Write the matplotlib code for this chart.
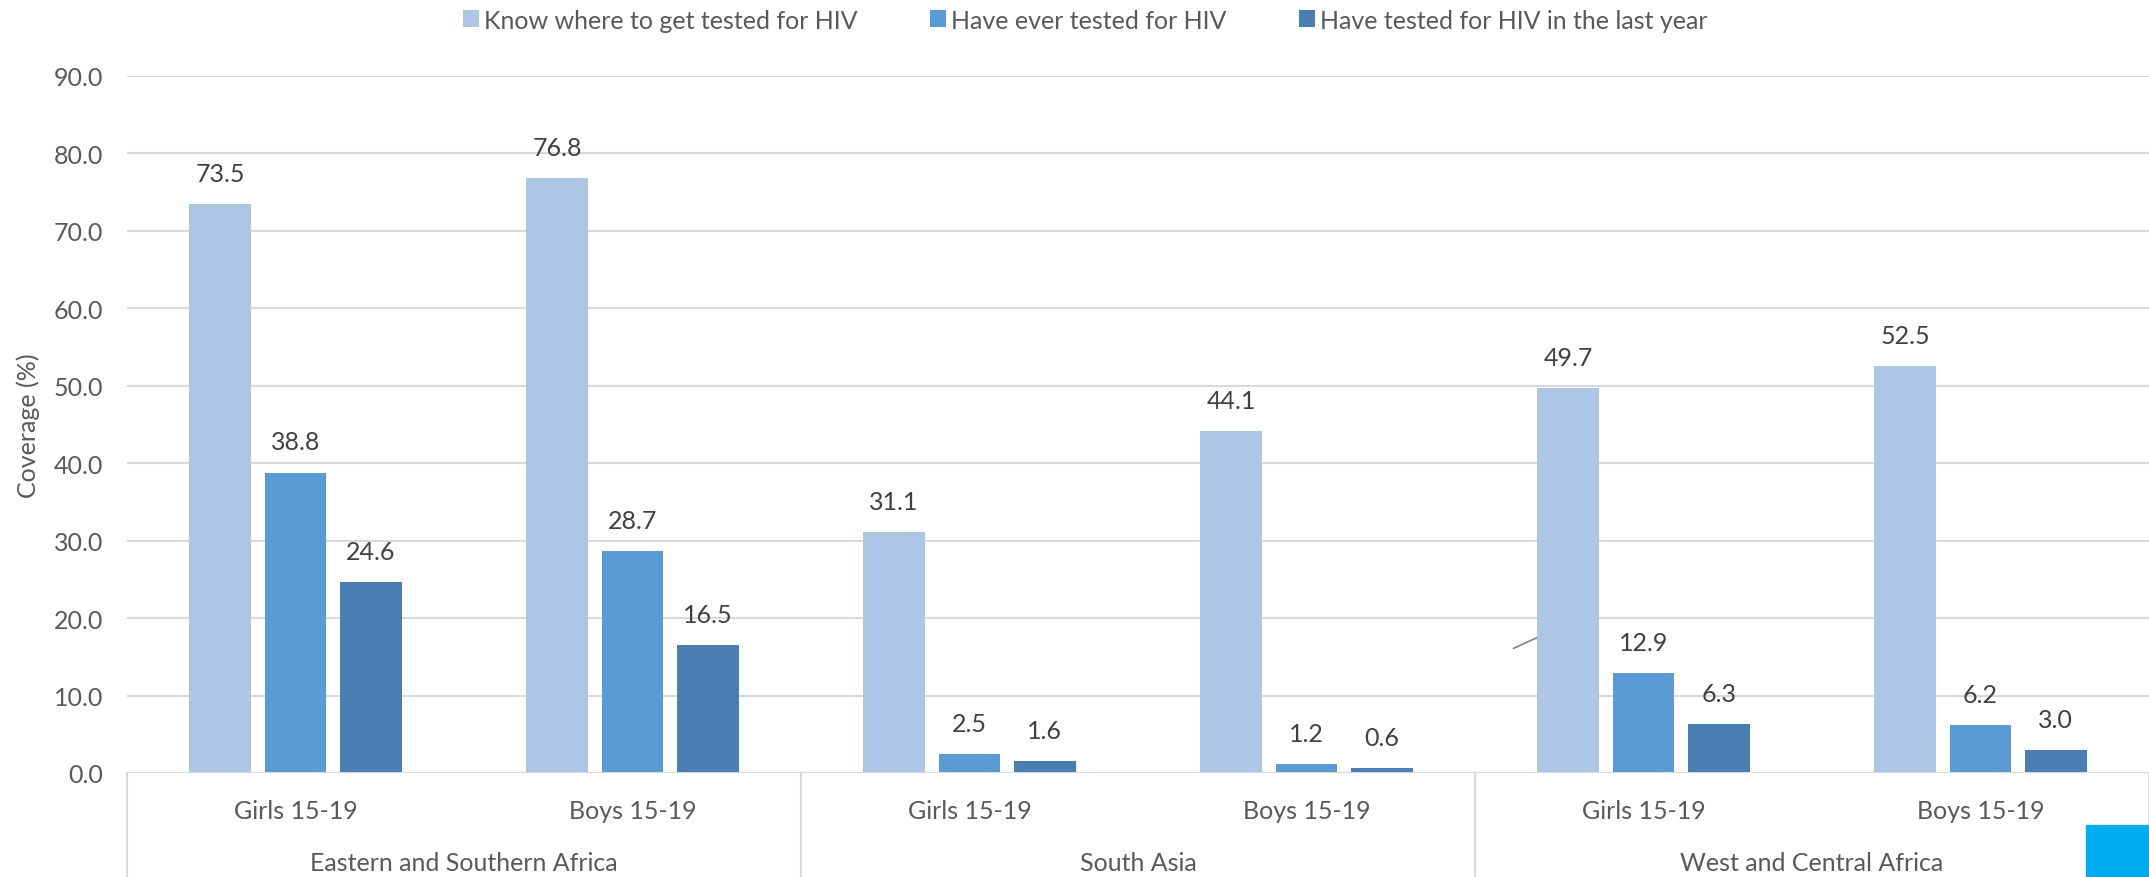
import numpy as np
import matplotlib.pyplot as plt
from matplotlib.patches import Rectangle
import matplotlib.transforms as mtransforms

plt.rcParams['font.family'] = ['Lato', 'DejaVu Sans']

# Dane
regiony = ["Eastern and Southern Africa", "South Asia", "West and Central Africa"]
grupy = ["Girls 15-19", "Boys 15-19", "Girls 15-19", "Boys 15-19", "Girls 15-19", "Boys 15-19"]
serie = ["Know where to get tested for HIV", "Have ever tested for HIV",
         "Have tested for HIV in the last year"]
wie_gdzie = [73.5, 76.8, 31.1, 44.1, 49.7, 52.5]
kiedykolwiek = [38.8, 28.7, 2.5, 1.2, 12.9, 6.2]
ostatni_rok = [24.6, 16.5, 1.6, 0.6, 6.3, 3.0]
kolory = ["#AEC6E5", "#5B9BD5", "#4A7EB0"]

tekst = "#595959"
fig = plt.figure(figsize=(21.49, 8.78), dpi=100)
ax = fig.add_axes([127 / 2149, 104 / 878, 1 - 127 / 2149, 697 / 878])

x = np.arange(len(grupy)) + 0.5
krok = 0.2236
szer = 0.183
for i, (wart, kol) in enumerate(zip([wie_gdzie, kiedykolwiek, ostatni_rok], kolory)):
    pos = x + (i - 1) * krok
    ax.bar(pos, wart, width=szer, color=kol, zorder=3, label=serie[i])
    for px, v in zip(pos, wart):
        ax.annotate("{:.1f}".format(v), (px, v), xytext=(0, 22), textcoords="offset points",
                    ha="center", va="center", fontsize=18, color="#404040")

ax.set_xlim(0, len(grupy))
ax.set_ylim(0, 90)
ax.set_yticks(np.arange(0, 91, 10))
ax.set_yticklabels(["{:.1f}".format(t) for t in np.arange(0, 91, 10)], fontsize=18, color=tekst)
ax.tick_params(axis="y", length=0, pad=17)
ax.grid(axis="y", color="#D9D9D9", linewidth=1.5, zorder=0)
for s in ["top", "right", "left", "bottom"]:
    ax.spines[s].set_visible(False)
ax.axhline(0, color="#D9D9D9", linewidth=1.5, zorder=4)

ax.set_xticks(x)
ax.set_xticklabels(grupy, fontsize=18, color=tekst)
ax.tick_params(axis="x", length=0, pad=19)

# Osie kategorii (regiony)
trans = mtransforms.blended_transform_factory(ax.transData, ax.transAxes)
for sep in [0, 2, 4, 6]:
    ax.plot([sep, sep], [0, -0.2], color="#D9D9D9", linewidth=1.5, transform=trans, clip_on=False)
for j, r in enumerate(regiony):
    ax.text(2 * j + 1, -0.128, r, transform=trans, ha="center", va="center", fontsize=18, color=tekst)

# Linia odniesienia (pozostałość po etykiecie)
lewy = x[4] - krok - szer / 2
ax.plot([lewy - 0.07, lewy], [16.1, 17.5], color="#7F7F7F", linewidth=1.2, zorder=2)

ax.set_ylabel("Coverage (%)", fontsize=18, color=tekst, labelpad=10)

fig.legend(loc="center", bbox_to_anchor=(0.505, 0.976), ncol=3, frameon=False, fontsize=18,
           handlelength=0.65, handleheight=0.65, handletextpad=0.2, columnspacing=2.9,
           labelcolor=tekst)

fig.add_artist(Rectangle((2086 / 2149, 0), 63 / 2149, 52 / 878, transform=fig.transFigure,
                         color="#00AEEF", zorder=10))

plt.savefig("out.png", dpi=100)
